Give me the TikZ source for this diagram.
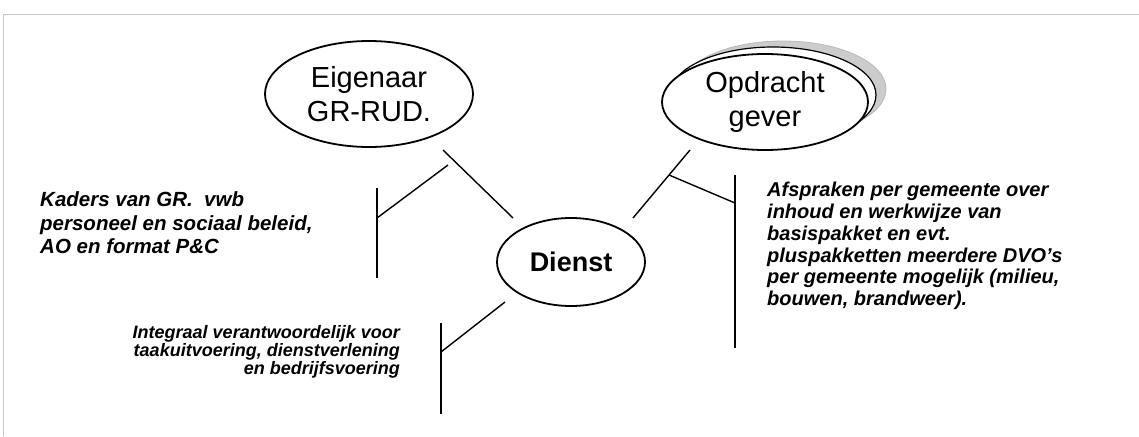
\documentclass[tikz,border=0pt]{standalone}
\usepackage{fontspec}
\setmainfont{Liberation Sans}
\usetikzlibrary{shapes.geometric}
\begin{document}
\begin{tikzpicture}[x=1pt,y=-1pt,
  bubble/.style={ellipse, draw=black, line width=1.8pt, fill=white, inner sep=0pt,
    align=center, font=\fontsize{29}{34}\selectfont},
  shade1/.style={ellipse, draw=black, line width=1.2pt, fill=white, inner sep=0pt},
  shade2/.style={ellipse, draw=gray!55, line width=0.8pt, fill=gray!40, inner sep=0pt},
  link/.style={line width=1.4pt},
  note/.style={font=\bfseries\itshape\fontsize{20.5}{23.5}\selectfont, align=left, inner sep=0pt},
  smallnote/.style={font=\bfseries\itshape\fontsize{18}{17.8}\selectfont, align=right, inner sep=0pt}]
\useasboundingbox (0,0) rectangle (1139,436);
\draw[gray!45, line width=0.8pt] (3,436) -- (3,14) -- (1139,14);

% ellipses
\node[bubble, minimum width=208pt, minimum height=106pt] (eig) at (369,94) {Eigenaar\\GR-RUD.};
\node[shade2, minimum width=206pt, minimum height=96pt] (opdsh2) at (783,89) {};
\node[shade1, minimum width=206pt, minimum height=96pt] (opdsh1) at (773,95) {};
\node[bubble, minimum width=206pt, minimum height=96pt] (opd) at (765,102) {Opdracht\\gever};
\node[bubble, minimum width=148pt, minimum height=88pt, font=\bfseries\fontsize{27}{32}\selectfont] (dienst) at (571,262) {Dienst};

% texts
\node[note, anchor=west] (kaders) at (40,223) {Kaders van GR.\ \ vwb\\personeel en sociaal beleid,\\AO en format P\&C};
\node[note, anchor=west, font=\bfseries\itshape\fontsize{20}{21.8}\selectfont] (afspr) at (767,246) {Afspraken per gemeente over\\inhoud en werkwijze van\\basispakket en evt.\\pluspakketten meerdere DVO's\\per gemeente mogelijk (milieu,\\bouwen, brandweer).};
\node[smallnote, anchor=east] (integr) at (400,352) {Integraal verantwoordelijk voor\\taakuitvoering, dienstverlening\\en bedrijfsvoering};

% connector end points
\coordinate (ed1) at (443,150);
\coordinate (ed2) at (513,218);
\coordinate (od1) at (690,150);
\coordinate (od2) at (633,218);
\coordinate (lbr1) at (377,188);
\coordinate (lbr2) at (377,278);
\coordinate (lbrm) at (377,218);
\coordinate (lbrx) at (448,165);
\coordinate (rbr1) at (735,175);
\coordinate (rbr2) at (735,348);
\coordinate (rbrm) at (735,203);
\coordinate (rbrx) at (669,175);
\coordinate (bbr1) at (441,323);
\coordinate (bbr2) at (441,414);
\coordinate (bbrm) at (441,352);
\coordinate (bbrx) at (505,302);

\draw[link] (ed1) -- (ed2);
\draw[link] (od1) -- (od2);
\draw[link] (lbr1) -- (lbr2);
\draw[link] (lbrm) -- (lbrx);
\draw[link] (rbr1) -- (rbr2);
\draw[link] (rbrm) -- (rbrx);
\draw[link] (bbr1) -- (bbr2);
\draw[link] (bbrm) -- (bbrx);
\end{tikzpicture}
\end{document}
